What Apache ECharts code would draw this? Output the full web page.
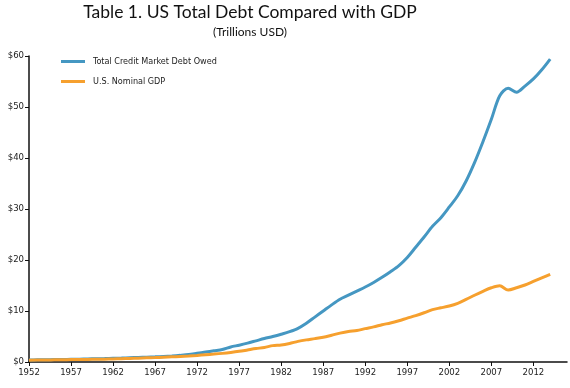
<!DOCTYPE html>
<html>
<head>
<meta charset="utf-8">
<script src="https://cdn.jsdelivr.net/npm/echarts@6/dist/echarts.min.js"></script>
<style>html,body{margin:0;padding:0;background:#fff}#c{width:570px;height:388px}</style>
</head>
<body>
<div id="c"></div>
<script>
const years = [];
for (let y = 1952; y <= 2016; y++) years.push(String(y));

const debt = [0.40,0.42,0.44,0.48,0.50,0.53,0.56,0.60,0.63,0.67,
  0.72,0.77,0.83,0.89,0.95,1.01,1.09,1.18,1.30,1.45,
  1.70,1.95,2.20,2.45,2.95,3.30,3.70,4.15,4.60,5.00,
  5.45,5.95,6.60,7.60,8.80,10.0,11.2,12.3,13.1,13.9,
  14.7,15.6,16.6,17.7,18.9,20.5,22.5,24.5,26.6,28.3,
  30.4,32.6,35.5,39.1,43.2,47.6,52.2,53.7,52.9,54.1,
  55.5,57.3,59.4];

const gdp = [0.36,0.38,0.38,0.42,0.44,0.47,0.48,0.51,0.54,0.56,
  0.60,0.64,0.69,0.74,0.81,0.86,0.94,1.02,1.07,1.16,
  1.28,1.43,1.55,1.69,1.87,2.09,2.36,2.63,2.86,3.21,
  3.34,3.64,4.04,4.34,4.58,4.86,5.25,5.66,5.98,6.17,
  6.54,6.88,7.31,7.66,8.10,8.61,9.09,9.66,10.28,10.62,
  10.98,11.51,12.27,13.09,13.86,14.55,14.95,14.10,14.55,15.10,
  15.80,16.50,17.20];

const seriesNames = ['Total Credit Market Debt Owed', 'U.S. Nominal GDP'];
const titleText = 'Table 1. US Total Debt Compared with GDP';
const subText = '(Trillions USD)';

const narrow = '"Liberation Sans Narrow", "DejaVu Sans Condensed", "Roboto Condensed", sans-serif';

const chart = echarts.init(document.getElementById('c'));
chart.setOption({
  animation: false,
  backgroundColor: '#fff',
  title: {
    text: titleText,
    subtext: subText,
    left: 250,
    textAlign: 'center',
    top: 3,
    padding: 0,
    itemGap: 5,
    textStyle: {fontFamily: 'Lato, "Open Sans", sans-serif', fontSize: 17.5, fontWeight: 'normal', color: '#111'},
    subtextStyle: {fontFamily: 'Lato, "Open Sans", sans-serif', fontSize: 12, color: '#111'}
  },
  legend: {
    orient: 'vertical',
    left: 61,
    top: 57,
    padding: 0,
    icon: 'rect',
    itemWidth: 24,
    itemHeight: 3,
    itemGap: 11,
    textStyle: {fontFamily: narrow, fontSize: 9, color: '#222', padding: [0,0,0,3]},
    data: seriesNames
  },
  grid: {left: 29, right: 3, top: 56, bottom: 26, containLabel: false},
  xAxis: {
    type: 'category',
    data: years,
    boundaryGap: false,
    axisLine: {lineStyle: {color: '#111', width: 1.5}},
    axisTick: {interval: 4, length: 4, lineStyle: {color: '#111'}},
    axisLabel: {interval: 4, color: '#222', fontFamily: narrow, fontSize: 9.5, margin: 6},
    splitLine: {show: false}
  },
  yAxis: {
    type: 'value',
    min: 0, max: 60, interval: 10,
    axisLine: {show: true, lineStyle: {color: '#111', width: 1.5}},
    axisTick: {show: true, length: 4, lineStyle: {color: '#111'}},
    axisLabel: {color: '#222', fontFamily: narrow, fontSize: 9.5, margin: 5, formatter: v => '$' + v},
    splitLine: {show: false}
  },
  series: [
    {name: seriesNames[0], type: 'line', data: debt, smooth: 0.3, showSymbol: false,
     lineStyle: {color: '#4597c2', width: 3}, itemStyle: {color: '#4597c2'}},
    {name: seriesNames[1], type: 'line', data: gdp, smooth: 0.3, showSymbol: false,
     lineStyle: {color: '#f6a02e', width: 3}, itemStyle: {color: '#f6a02e'}}
  ]
});
</script>
</body>
</html>
